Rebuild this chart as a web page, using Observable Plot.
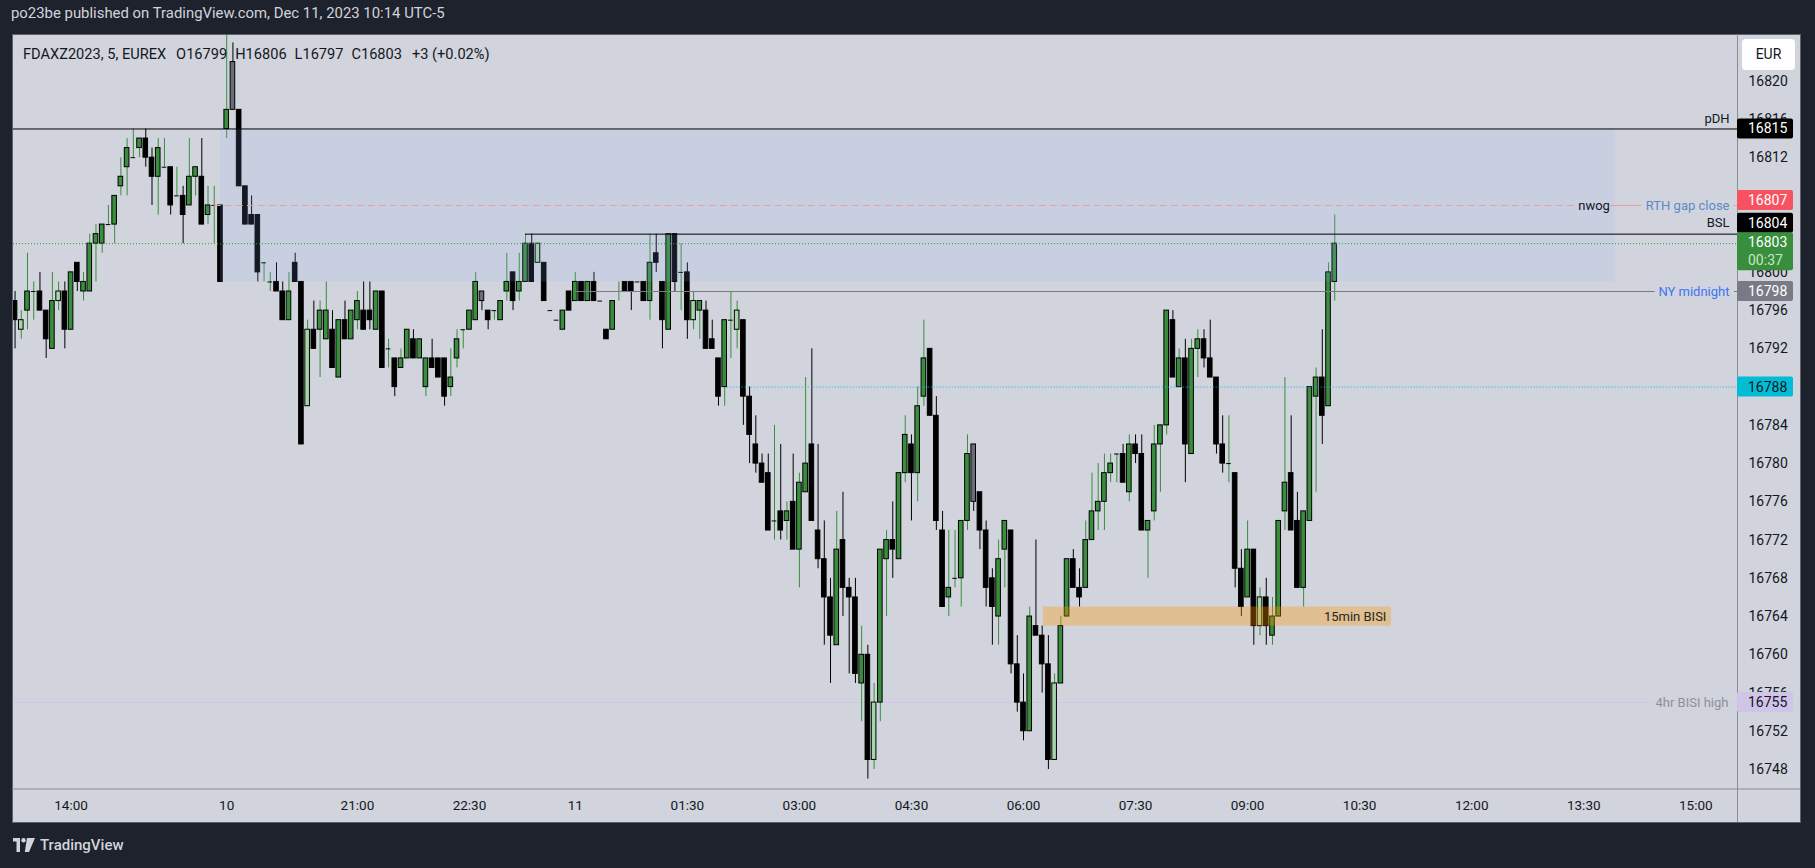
<!DOCTYPE html>
<html><head><meta charset="utf-8">
<script src="https://cdn.jsdelivr.net/npm/d3@7"></script>
<script src="https://cdn.jsdelivr.net/npm/@observablehq/plot@0.6"></script>
<style>
html,body{margin:0;padding:0;background:#1e222d;width:1815px;height:868px;overflow:hidden;font-family:Roboto,"Noto Sans",sans-serif;}
#frame{position:absolute;left:12px;top:34px;width:1787px;height:787px;background:#d1d4dc;border:1px solid #5d606b;}
#pub{position:absolute;left:11px;top:4px;color:#d1d4dc;font-size:14.9px;}
#legend{position:absolute;left:23px;top:45px;font-size:14.6px;color:#131722;white-space:pre;}
#legend span{margin-left:8px;}
#legend span.first{margin-left:10px;}
#eur{position:absolute;left:1742px;top:39px;width:53px;height:31px;background:#fff;border-radius:4px;font-size:14px;color:#131722;text-align:center;line-height:31px;}
#chart{position:absolute;left:0;top:0;}
#logo{position:absolute;left:13px;top:836px;color:#d1d4dc;font-size:15px;font-weight:500;display:flex;align-items:center;gap:5px;}
</style></head>
<body>
<div id="pub">po23be published on TradingView.com, Dec 11, 2023 10:14 UTC-5</div>
<div id="frame"></div>
<div id="chart"></div>
<div id="legend">FDAXZ2023, 5, EUREX<span class="first">O16799</span><span>H16806</span><span>L16797</span><span>C16803</span><span class="first">+3 (+0.02%)</span></div>
<div id="eur">EUR</div>
<div id="logo"><svg width="22" height="14" viewBox="0 0 22 14"><path d="M0 0h7v14h-3.5V3.5H0z" fill="#d1d4dc"/><circle cx="10.5" cy="2.2" r="2.2" fill="#d1d4dc"/><path d="M14 0h8L16 14h-4.2z" fill="#d1d4dc"/></svg><span>TradingView</span></div>
<script>
// ---- data ----
const firstBar = -9;
const opens = [16797,16794,16796,16798,16798,16796,16792,16797,16798,16794,16801,16798,16798,16803,16803,16805,16805,16809,16811,16812,16813,16814,16812,16810,16811,16811,16808,16808,16807,16810,16810,16806,16807,16807,
16815,16822,16817,16809,16806,16806,16801,16799,16799,16798,16795,16801,16799,16786,16794,16794,16793,16794,16789,16795,16793,16795,16796,16796,16794,16798,16792,16791,16790,16791,16793,16791,16788,16791,16791,16791,16788,16791,16794,
16794,16795,16798,16796,16796,16795,16798,16800,16798,16799,16803,16801,16801,16796,16795,16794,16798,16797,16799,16797,16799,16797,16794,16794,16798,16799,16799,16799,16799,16797,16802,16799,16794,16804,16800,16800,16795,16796,
16796,16793,16791,16788,16795,16794,16795,16787,16782,16780,16779,16774,16775,16774,16776,16771,16777,16782,16773,16770,16766,16761,16772,16767,16766,16757,16760,16749,16755,16770,16772,16770,16779,16782,16779,16787,16792,
16785,16773,16766,16768,16768,16774,16782,16777,16773,16768,16764,16771,16773,16759,16755,16752,16763,16762,16759,16749,16757,16764,16770,16767,16767,16772,16775,16776,16779,16781,16781,16777,16782,16781,16773,16775,16782,
16784,16795,16788,16791,16781,16792,16793,16791,16789,16782,16780,16779,16769,16766,16771,16763,16766,16762,16764,16775,16779,16774,16767,16774,16787,16789,16786,16799];
const highs = [16798,16796,16802,16799,16800,16796,16800,16799,16799,16800,16801,16800,16804,16805,16805,16807,16808,16812,16814,16815,16814,16815,16813,16814,16814,16811,16811,16809,16814,16811,16814,16809,16809,16807,
16826,16824,16817,16809,16808,16806,16801,16800,16801,16799,16800,16802,16799,16795,16797,16797,16799,16796,16795,16797,16796,16798,16799,16799,16798,16798,16793,16791,16792,16794,16794,16793,16791,16793,16791,16791,16792,16794,16794,
16796,16800,16798,16796,16796,16797,16802,16800,16802,16804,16804,16803,16801,16796,16795,16796,16798,16800,16799,16799,16800,16797,16794,16797,16799,16799,16799,16799,16799,16804,16804,16799,16804,16804,16803,16801,16798,
16797,16797,16795,16791,16795,16798,16797,16795,16788,16785,16781,16781,16784,16782,16776,16781,16779,16789,16792,16782,16774,16768,16775,16777,16768,16768,16763,16761,16757,16771,16773,16776,16779,16785,16783,16788,16795,
16792,16787,16775,16773,16773,16774,16783,16782,16777,16774,16769,16772,16774,16773,16762,16758,16765,16772,16763,16762,16758,16764,16770,16771,16769,16774,16779,16780,16781,16781,16781,16782,16783,16783,16783,16774,16784,
16784,16796,16796,16792,16793,16793,16794,16794,16795,16789,16785,16785,16779,16771,16774,16771,16767,16768,16766,16774,16789,16785,16777,16775,16788,16790,16794,16801,16806];
const lows = [16792,16793,16794,16795,16796,16791,16792,16796,16792,16794,16798,16797,16798,16799,16802,16805,16803,16808,16808,16812,16812,16811,16807,16806,16811,16806,16808,16803,16807,16808,16805,16805,16803,16799,
16814,16817,16809,16805,16805,16799,16799,16798,16798,16795,16795,16799,16782,16786,16792,16789,16793,16790,16789,16793,16793,16794,16794,16794,16794,16790,16790,16787,16790,16791,16791,16791,16787,16790,16789,16786,16787,16790,16792,
16794,16795,16796,16794,16795,16795,16797,16796,16797,16799,16799,16801,16797,16796,16795,16794,16796,16797,16797,16797,16797,16797,16793,16794,16797,16798,16796,16799,16797,16795,16800,16792,16794,16798,16796,16793,16794,
16793,16792,16792,16786,16786,16791,16792,16784,16780,16779,16778,16773,16772,16772,16772,16771,16767,16777,16774,16769,16761,16757,16761,16764,16758,16757,16753,16747,16748,16753,16764,16768,16770,16778,16774,16776,16786,
16785,16773,16765,16764,16767,16765,16773,16775,16771,16765,16761,16761,16767,16758,16754,16751,16752,16762,16756,16748,16749,16757,16764,16767,16765,16767,16772,16773,16773,16778,16778,16778,16776,16780,16773,16768,16774,
16777,16783,16789,16788,16778,16781,16789,16790,16789,16781,16779,16778,16767,16764,16766,16761,16762,16761,16761,16764,16773,16773,16767,16765,16774,16777,16782,16786,16797];
const closes = [16795,16795,16798,16798,16796,16793,16797,16798,16794,16800,16799,16799,16803,16804,16805,16805,16808,16810,16813,16812,16814,16812,16810,16813,16811,16807,16808,16806,16810,16811,16805,16807,16807,16799,
16817,16817,16809,16805,16805,16800,16801,16799,16798,16795,16798,16799,16782,16794,16792,16796,16796,16790,16795,16793,16796,16797,16794,16795,16798,16790,16792,16788,16791,16794,16791,16793,16791,16790,16789,16787,16789,16793,16794,
16796,16799,16797,16795,16796,16797,16799,16797,16799,16803,16799,16803,16797,16796,16795,16796,16796,16799,16797,16799,16797,16797,16793,16797,16798,16798,16798,16799,16797,16801,16801,16795,16804,16799,16800,16795,16797,
16797,16792,16792,16787,16795,16795,16796,16787,16783,16780,16778,16773,16774,16773,16775,16771,16778,16780,16774,16770,16766,16762,16771,16767,16766,16758,16760,16749,16755,16771,16772,16771,16779,16783,16779,16786,16791,
16785,16774,16765,16767,16768,16774,16781,16776,16773,16767,16765,16770,16774,16759,16755,16752,16764,16762,16759,16749,16757,16763,16770,16767,16766,16772,16775,16776,16779,16780,16781,16778,16782,16781,16773,16774,16782,
16784,16796,16789,16791,16782,16792,16793,16791,16789,16782,16780,16780,16769,16765,16771,16763,16766,16763,16764,16774,16778,16773,16767,16775,16788,16789,16785,16800,16803];
const kinds = ["d","p","u","u","d","d","u","p","d","u","d","u","u","u","u","u","u","u","u","u","u","d","d","u","u","d","u","d","u","u","d","u","u","d",
"u","g","d","d","d","d","u","u","d","d","u","d","d","p","d","u","u","d","u","d","u","u","d","d","u","d","u","d","u","u","d","u","u","d","d","d","u","u","u",
"u","u","g","d","u","u","u","d","u","u","d","p","d","d","d","u","d","u","d","u","d","d","d","u","u","d","d","d","d","u","d","d","u","d","u","d","p",
"u","d","d","d","u","u","p","d","d","d","d","d","u","d","u","d","u","u","d","d","d","d","u","d","d","d","u","d","p","u","u","d","u","u","d","u","u",
"d","d","d","u","u","u","u","g","d","d","d","u","u","d","d","d","u","d","d","d","p","u","u","d","d","u","u","u","u","u","u","d","u","d","d","u","u",
"u","u","d","u","d","u","u","d","d","d","d","u","d","d","u","d","p","d","u","u","u","d","d","u","u","u","d","u","u"];

const tickBars = [0,25,46,64,81,99,117,135,153,171,189,207,225,243,261];
const tickLabels = ["14:00","10","21:00","22:30","11","01:30","03:00","04:30","06:00","07:30","09:00","10:30","12:00","13:30","15:00"];
const priceTicks = [16748,16752,16756,16760,16764,16768,16772,16776,16780,16784,16792,16796,16800,16812,16816,16820];

// annotations (prices, start bar)
const nwog = {from: 24, to: 248, low: 16799, high: 16815};
const bisi15 = {from: 156.2, to: 212.1, low: 16763, high: 16765};
const pdh = 16815, bsl = 16804, bslFrom = 73, rthGap = 16807, rthFrom = 23;
const nyMidnight = 16798, nyFrom = 81, cyanLevel = 16788, cyanFrom = 105.4, bisi4h = 16755;
const lastPrice = 16803, countdown = "00:37";

// ---- build ----
const candles = opens.map((o, k) => ({i: firstBar + k, o, h: highs[k], l: lows[k], c: closes[k], kind: kinds[k]}));
const fillOf = {u: "#388e3c", d: "#000000", p: "#a5d6a7", g: "#6a6d78"};
const wickOf = {u: "#388e3c", d: "#000000", p: "#388e3c", g: "#000000"};
const xDomain = [-9.25, 267.7];
const yDomain = [16745.91, 16824.83];
const xEnd = xDomain[1], xStart = xDomain[0];
const bg = "#d1d4dc", boxBlend = "#c7cfe1";
const tickMap = new Map(tickBars.map((b, k) => [b, tickLabels[k]]));
const hw = 0.37;

const chart = Plot.plot({
  width: 1815, height: 868,
  marginLeft: 13, marginRight: 78, marginTop: 34.5, marginBottom: 79,
  x: {domain: xDomain},
  y: {domain: yDomain},
  style: {background: "transparent", color: "#131722", fontFamily: "Roboto, 'Noto Sans', sans-serif", fontSize: "13.5px"},
  marks: [
    Plot.axisY({anchor: "right", ticks: priceTicks, tickFormat: d => String(d), tickSize: 0, tickPadding: 11, label: null, fontSize: 14}),
    Plot.axisX({ticks: tickBars, tickFormat: d => tickMap.get(d), tickSize: 0, tickPadding: 11, label: null, fontSize: 13.5}),
    Plot.ruleY([bisi4h], {x1: xStart, x2: xEnd, stroke: "#d1c4e9", strokeWidth: 1}),
    Plot.ruleX(candles, {x: "i", y1: "l", y2: "h", stroke: d => wickOf[d.kind], strokeWidth: 1, clip: true}),
    Plot.rect(candles.filter(d => d.o !== d.c), {x1: d => d.i - hw, x2: d => d.i + hw, y1: d => Math.min(d.o, d.c), y2: d => Math.max(d.o, d.c), fill: d => fillOf[d.kind], stroke: "#000", strokeWidth: 1, clip: true}),
    Plot.ruleY(candles.filter(d => d.o === d.c), {y: "c", x1: d => d.i - hw, x2: d => d.i + hw, stroke: "#000", strokeWidth: 1, clip: true}),
    Plot.rect([nwog], {x1: "from", x2: "to", y1: "low", y2: "high", fill: "rgb(150,180,255)", fillOpacity: 0.14}),
    Plot.rect([bisi15], {x1: "from", x2: "to", y1: "low", y2: "high", fill: "#ff9800", fillOpacity: 0.33}),
    Plot.ruleY([pdh], {x1: xStart, x2: xEnd, stroke: "#000", strokeWidth: 1}),
    Plot.ruleY([bsl], {x1: bslFrom, x2: xEnd, stroke: "#000", strokeWidth: 1}),
    Plot.ruleY([lastPrice], {x1: xStart, x2: xEnd, stroke: "#2e9a35", strokeWidth: 1, strokeDasharray: "1 2"}),
    Plot.ruleY([cyanLevel], {x1: cyanFrom, x2: xEnd, stroke: "#00bcd4", strokeWidth: 1, strokeDasharray: "1 2"}),
    Plot.ruleY([nyMidnight], {x1: nyFrom, x2: xEnd, stroke: "#787b86", strokeWidth: 1}),
    Plot.ruleY([rthGap], {x1: rthFrom, x2: nwog.to, stroke: "#ef9aa8", strokeWidth: 1, strokeDasharray: "7 4"}),
    Plot.ruleY([rthGap], {x1: nwog.to - 0.8, x2: xEnd, stroke: "#ef9aa8", strokeWidth: 1}),
    Plot.text([pdh], {y: d => d, text: () => "pDH", frameAnchor: "right", textAnchor: "end", dx: -8, dy: -10, fill: "#131722", fontSize: 13}),
    Plot.text([bsl], {y: d => d, text: () => "BSL", frameAnchor: "right", textAnchor: "end", dx: -8, dy: -11, fill: "#131722", fontSize: 13}),
    Plot.text([rthGap], {y: d => d, text: () => "RTH gap close", frameAnchor: "right", textAnchor: "end", dx: -8, fill: "#5b8bc4", stroke: bg, strokeWidth: 10, paintOrder: "stroke", fontSize: 13}),
    Plot.text([rthGap], {x: nwog.to, y: d => d, text: () => "nwog", textAnchor: "end", dx: -5, fill: "#131722", stroke: boxBlend, strokeWidth: 3, paintOrder: "stroke", fontSize: 13}),
    Plot.text([nyMidnight], {y: d => d, text: () => "NY midnight", frameAnchor: "right", textAnchor: "end", dx: -8, fill: "#3d74f5", stroke: bg, strokeWidth: 10, paintOrder: "stroke", fontSize: 13}),
    Plot.text([bisi4h], {y: d => d, text: () => "4hr BISI high", frameAnchor: "right", textAnchor: "end", dx: -9, fill: "#8d909a", stroke: bg, strokeWidth: 10, paintOrder: "stroke", fontSize: 13}),
    Plot.text([bisi15], {x: "to", y: d => (d.low + d.high) / 2, text: () => "15min BISI", textAnchor: "end", dx: -5, fill: "#2a2520", fontSize: 13})
  ]
});
document.getElementById("chart").appendChild(chart);

// price-axis labels & frame lines drawn with the plot's own scales
const svg = d3.select(chart);
const ys = chart.scale("y"), xs = chart.scale("x");
const axX = xs.range[1];
const yBottom = ys.apply(yDomain[0]);
svg.append("line").attr("x1", 12).attr("x2", 1800).attr("y1", yBottom).attr("y2", yBottom).attr("stroke", "#8a8d97");
svg.append("line").attr("x1", axX + 0.5).attr("x2", axX + 0.5).attr("y1", 34).attr("y2", 822).attr("stroke", "#8a8d97");

const axisBoxes = [
  {v: pdh, bg: "#000000", fg: "#ffffff", off: 0, h: 20},
  {v: rthGap, bg: "#f7525f", fg: "#ffffff", off: -5, h: 20},
  {v: bsl, bg: "#000000", fg: "#ffffff", off: -11, h: 20},
  {v: lastPrice, bg: "#388e3c", fg: "#ffffff", off: 8, h: 38, sub: countdown},
  {v: nyMidnight, bg: "#787b86", fg: "#ffffff", off: 0, h: 20},
  {v: cyanLevel, bg: "#00bcd4", fg: "#131722", off: 0, h: 20},
  {v: bisi4h, bg: "#d1c4e9", fg: "#131722", off: 0, h: 20}
];
const g = svg.append("g").attr("text-anchor", "start").attr("font-size", 14);
for (const b of axisBoxes) {
  const cy = ys.apply(b.v) + b.off;
  const top = cy - b.h / 2;
  g.append("rect").attr("x", axX).attr("y", top).attr("width", 56).attr("height", b.h).attr("rx", 2).attr("fill", b.bg);
  const t1y = b.sub ? top + 10 : cy;
  g.append("text").attr("x", axX + 11).attr("y", t1y).attr("dy", "0.35em").attr("fill", b.fg).text(b.v);
  if (b.sub) g.append("text").attr("x", axX + 11).attr("y", top + 28).attr("dy", "0.35em").attr("fill", "#c8e6c9").text(b.sub);
}
</script>
</body></html>
